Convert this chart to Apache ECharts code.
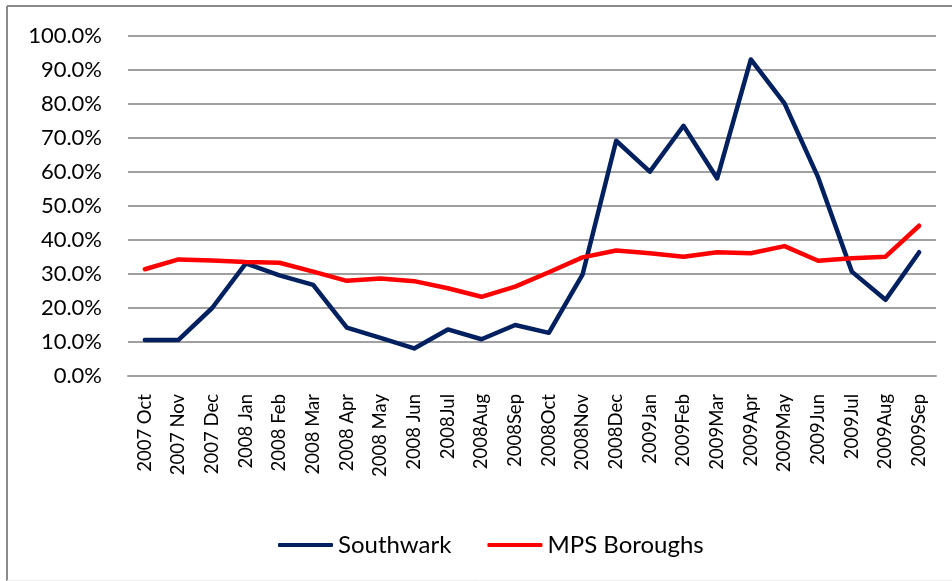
<!DOCTYPE html>
<html>
<head>
<meta charset="utf-8">
<script src="https://cdn.jsdelivr.net/npm/echarts@6/dist/echarts.min.js"></script>
<style>
  html, body { margin: 0; padding: 0; background: #fff; }
  #chart { width: 952px; height: 581px; }
</style>
</head>
<body>
<div id="chart"></div>
<script>
// Monthly categories, Oct 2007 to Sep 2009
const months = [
  '2007 Oct', '2007 Nov', '2007 Dec', '2008 Jan', '2008 Feb', '2008 Mar',
  '2008 Apr', '2008 May', '2008 Jun', '2008Jul', '2008Aug', '2008Sep',
  '2008Oct', '2008Nov', '2008Dec', '2009Jan', '2009Feb', '2009Mar',
  '2009Apr', '2009May', '2009Jun', '2009Jul', '2009Aug', '2009Sep'
];

// Rates in percent
const southwark = [
  10.6, 10.6, 20.0, 33.1, 29.6, 26.8,
  14.2, 11.2, 8.1, 13.7, 10.8, 15.0,
  12.7, 29.8, 69.2, 60.1, 73.6, 58.1,
  93.1, 80.2, 58.4, 30.7, 22.4, 36.4
];
const mpsBoroughs = [
  31.4, 34.3, 34.0, 33.5, 33.3, 30.7,
  28.0, 28.7, 27.9, 25.8, 23.3, 26.3,
  30.5, 34.9, 36.9, 36.1, 35.1, 36.4,
  36.1, 38.2, 33.9, 34.6, 35.1, 44.2
];

const FONT = 'Lato, "Noto Sans", sans-serif';

const chart = echarts.init(document.getElementById('chart'), null, { renderer: 'canvas' });
chart.setOption({
  backgroundColor: '#ffffff',
  animation: false,
  grid: { left: 128, right: 16, top: 36, bottom: 205 },
  graphic: [
    { type: 'line', shape: { x1: 7, y1: 6, x2: 7, y2: 581 }, style: { stroke: '#8a8a8a', lineWidth: 2 } },
    { type: 'line', shape: { x1: 7, y1: 6, x2: 952, y2: 6 }, style: { stroke: '#8a8a8a', lineWidth: 2 } },
    { type: 'line', shape: { x1: 7, y1: 580.5, x2: 952, y2: 580.5 }, style: { stroke: '#ececec', lineWidth: 1 } }
  ],
  legend: {
    left: 273,
    top: 528,
    itemWidth: 55,
    itemHeight: 4,
    itemGap: 36,
    icon: 'roundRect',
    textStyle: { fontFamily: FONT, fontSize: 24, color: '#000' },
    data: ['Southwark', 'MPS Boroughs']
  },
  xAxis: {
    type: 'category',
    data: months,
    boundaryGap: true,
    axisLine: { show: true, lineStyle: { color: '#a0a0a0', width: 2 } },
    axisTick: { show: false },
    axisLabel: {
      interval: 0,
      rotate: 90,
      margin: 18,
      fontFamily: FONT,
      fontSize: 18.5,
      color: '#000'
    }
  },
  yAxis: {
    type: 'value',
    min: 0,
    max: 100,
    interval: 10,
    axisLine: { show: false },
    axisTick: { show: false },
    splitLine: { lineStyle: { color: '#a0a0a0', width: 2 } },
    axisLabel: {
      margin: 26,
      fontFamily: FONT,
      fontSize: 22,
      color: '#000',
      formatter: v => v.toFixed(1) + '%'
    }
  },
  series: [
    {
      name: 'Southwark',
      type: 'line',
      data: southwark,
      symbol: 'none',
      lineStyle: { color: '#002060', width: 4.5, join: 'round', cap: 'round' },
      itemStyle: { color: '#002060' }
    },
    {
      name: 'MPS Boroughs',
      type: 'line',
      data: mpsBoroughs,
      symbol: 'none',
      lineStyle: { color: '#ff0000', width: 4.5, join: 'round', cap: 'round' },
      itemStyle: { color: '#ff0000' }
    }
  ]
});
</script>
</body>
</html>
